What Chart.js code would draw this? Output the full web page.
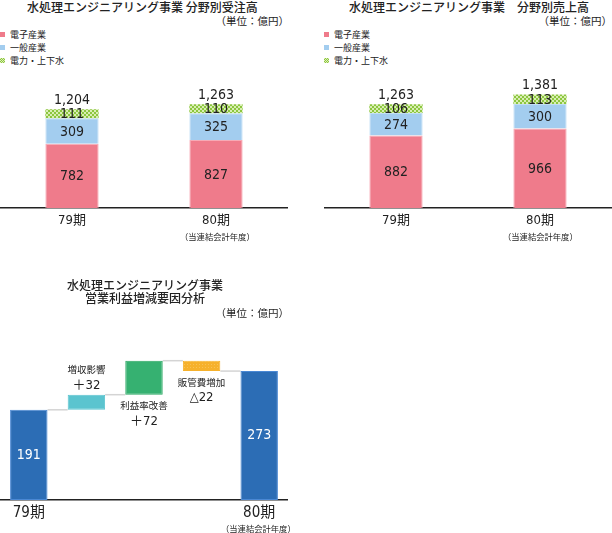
<!DOCTYPE html>
<html>
<head>
<meta charset="utf-8">
<script src="https://cdn.jsdelivr.net/npm/chart.js@4"></script>
<style>
  body { margin: 0; background: #fff; }
  #page { position: relative; width: 612px; height: 533px; font-family: "Noto Sans CJK JP", sans-serif; color: #222; }
  .t { position: absolute; white-space: nowrap; line-height: 1; }
  .title { font-size: 12px; font-weight: 500; }
  .unit { font-size: 10.5px; }
  .note { font-size: 8.3px; }
  .leg { font-size: 9px; }
  .sw { position: absolute; width: 5px; height: 5px; }
  .box { position: absolute; }
</style>
</head>
<body>
<div id="page">
  <div class="t title" style="left:27px;top:1px">水処理エンジニアリング事業 分野別受注高</div>
  <div class="t unit" style="right:323px;top:16px">（単位：億円）</div>
  <div class="sw" style="left:0;top:32px;background:#ef7b8b"></div>
  <div class="t leg" style="left:10px;top:30px">電子産業</div>
  <div class="sw" style="left:0;top:45px;background:#a3cdef"></div>
  <div class="t leg" style="left:10px;top:43px">一般産業</div>
  <div class="sw" style="left:0;top:58px;background:repeating-conic-gradient(#8cc63f 0 25%, #dcefb8 0 50%) 0 0/2px 2px"></div>
  <div class="t leg" style="left:10px;top:56px">電力・上下水</div>
  <div class="box" style="left:0;top:60px;width:288px;height:175px"><canvas id="c1"></canvas></div>
  <div class="t note" style="left:180px;top:232px">（当連結会計年度）</div>

  <div class="t title" style="left:349px;top:1px">水処理エンジニアリング事業　分野別売上高</div>
  <div class="t unit" style="right:0;top:16px">（単位：億円）</div>
  <div class="sw" style="left:324px;top:32px;background:#ef7b8b"></div>
  <div class="t leg" style="left:334px;top:30px">電子産業</div>
  <div class="sw" style="left:324px;top:45px;background:#a3cdef"></div>
  <div class="t leg" style="left:334px;top:43px">一般産業</div>
  <div class="sw" style="left:324px;top:58px;background:repeating-conic-gradient(#8cc63f 0 25%, #dcefb8 0 50%) 0 0/2px 2px"></div>
  <div class="t leg" style="left:334px;top:56px">電力・上下水</div>
  <div class="box" style="left:324px;top:60px;width:288px;height:175px"><canvas id="c2"></canvas></div>
  <div class="t note" style="left:503px;top:232px">（当連結会計年度）</div>

  <div class="t title" style="left:67px;top:279px">水処理エンジニアリング事業</div>
  <div class="t title" style="left:85px;top:292px">営業利益増減要因分析</div>
  <div class="t unit" style="right:323px;top:308px">（単位：億円）</div>
  <div class="box" style="left:0;top:330px;width:288px;height:200px"><canvas id="c3"></canvas></div>
  <div class="t note" style="left:221px;top:524px">（当連結会計年度）</div>
</div>
<script>
// data
const periods = ['79期', '80期'];
const segments = ['電子産業', '一般産業', '電力・上下水'];
const ordersElectronics = [782, 827];
const ordersGeneral = [309, 325];
const ordersPower = [111, 110];
const ordersTotal = [1204, 1263];
const salesElectronics = [882, 966];
const salesGeneral = [274, 300];
const salesPower = [106, 113];
const salesTotal = [1263, 1381];
const bridgeLabels = ['79期', '増収影響', '利益率改善', '販管費増加', '80期'];
const bridgeValues = [191, 32, 72, -22, 273];

const FONT = '"Noto Sans CJK JP", sans-serif';
const NUM = '"Liberation Sans Narrow", "DejaVu Sans Condensed", "Noto Sans CJK JP", sans-serif';

function makePattern(bg, fg, size) {
  const c = document.createElement('canvas');
  c.width = size * 2; c.height = size * 2;
  const g = c.getContext('2d');
  g.fillStyle = bg; g.fillRect(0, 0, c.width, c.height);
  g.fillStyle = fg;
  g.fillRect(0, 0, size, size);
  g.fillRect(size, size, size, size);
  return g.createPattern(c, 'repeat');
}
const greenPattern = makePattern('#8cc63f', '#d9eeb3', 2);
const orangePattern = (() => {
  const c = document.createElement('canvas');
  c.width = 3; c.height = 3;
  const g = c.getContext('2d');
  g.fillStyle = '#f6b12c'; g.fillRect(0, 0, 3, 3);
  g.fillStyle = '#f8c155'; g.fillRect(1, 1, 1, 1);
  return g.createPattern(c, 'repeat');
})();

// value labels in segments + total above
const stackLabels = {
  id: 'stackLabels',
  afterDatasetsDraw(chart, args, opts) {
    const ctx = chart.ctx;
    ctx.save();
    ctx.textAlign = 'center';
    ctx.textBaseline = 'middle';
    ctx.fillStyle = '#222';
    ctx.font = '14px ' + NUM;
    chart.data.datasets.forEach((ds, di) => {
      chart.getDatasetMeta(di).data.forEach((bar, i) => {
        ctx.fillText(ds.data[i].toLocaleString(), bar.x, (bar.y + bar.base) / 2 + 1);
      });
    });
    const top = chart.getDatasetMeta(chart.data.datasets.length - 1).data;
    top.forEach((bar, i) => {
      ctx.fillText(opts.totals[i].toLocaleString(), bar.x, bar.y - 9);
    });
    ctx.restore();
  }
};

function stackedChart(id, a, b, c, totals) {
  new Chart(document.getElementById(id), {
    type: 'bar',
    data: {
      labels: periods,
      datasets: [
        { label: segments[0], data: a, backgroundColor: '#ef7b8b', borderColor: '#f7aab5', borderWidth: 1 },
        { label: segments[1], data: b, backgroundColor: '#a3cdef', borderColor: '#c2def5', borderWidth: 1 },
        { label: segments[2], data: c, backgroundColor: greenPattern, borderWidth: 0 }
      ]
    },
    options: {
      responsive: true,
      maintainAspectRatio: false,
      animation: false,
      layout: { padding: 0 },
      barPercentage: 0.74,
      categoryPercentage: 0.5,
      plugins: { legend: { display: false }, tooltip: { enabled: false }, stackLabels: { totals } },
      scales: {
        x: {
          stacked: true,
          grid: { display: false, drawTicks: false },
          border: { display: true, color: '#222', width: 1.5 },
          ticks: { color: '#222', font: { family: NUM, size: 13 }, padding: 5 },
          afterFit(scale) { scale.height = 27; }
        },
        y: { stacked: true, display: false, min: 0, max: 1800 }
      }
    },
    plugins: [stackLabels]
  });
}
stackedChart('c1', ordersElectronics, ordersGeneral, ordersPower, ordersTotal);
stackedChart('c2', salesElectronics, salesGeneral, salesPower, salesTotal);

// waterfall
const last = bridgeValues.length - 1;
let running = 0;
const bridgeRanges = bridgeValues.map((v, i) => {
  if (i === 0 || i === last) { running = v; return [0, v]; }
  const r = [running, running + v];
  running += v;
  return r;
});
const bridgeColors = ['#2c6db5', '#5bc4cf', '#36b171', orangePattern, '#2c6db5'];
const bridgeBorders = ['#4a88d4', '#5bc4cf', '#2aa862', '#f6b12c', '#4a88d4'];
const labelAbove = [false, true, false, false, false];

const bridgeLabelsPlugin = {
  id: 'bridgeLabels',
  beforeDatasetsDraw(chart) {
    const ctx = chart.ctx, y = chart.scales.y;
    const bars = chart.getDatasetMeta(0).data;
    ctx.save();
    ctx.strokeStyle = '#d4d4d4';
    ctx.lineWidth = 1.5;
    for (let i = 0; i < bars.length - 1; i++) {
      const lvl = y.getPixelForValue(bridgeRanges[i][1]);
      ctx.beginPath();
      ctx.moveTo(bars[i].x + bars[i].width / 2, lvl);
      ctx.lineTo(bars[i + 1].x - bars[i + 1].width / 2, lvl);
      ctx.stroke();
    }
    ctx.restore();
  },
  afterDatasetsDraw(chart) {
    const ctx = chart.ctx, y = chart.scales.y;
    const bars = chart.getDatasetMeta(0).data;
    ctx.save();
    ctx.textAlign = 'center';
    ctx.textBaseline = 'middle';
    bars.forEach((bar, i) => {
      const v = bridgeValues[i];
      if (i === 0 || i === last) {
        ctx.fillStyle = '#fff';
        ctx.font = '14px ' + NUM;
        ctx.fillText(String(v), bar.x, (bar.y + bar.base) / 2);
        return;
      }
      const hi = y.getPixelForValue(Math.max(...bridgeRanges[i]));
      const lo = y.getPixelForValue(Math.min(...bridgeRanges[i]));
      const txt = v > 0 ? '＋' + v : '△' + Math.abs(v);
      ctx.fillStyle = '#222';
      const y1 = labelAbove[i] ? hi - 25 : lo + 11;
      ctx.font = '9.5px ' + FONT;
      ctx.fillText(bridgeLabels[i], bar.x, y1);
      ctx.font = '13px ' + NUM;
      ctx.fillText(txt, bar.x, y1 + 16);
    });
    ctx.restore();
  }
};

new Chart(document.getElementById('c3'), {
  type: 'bar',
  data: {
    labels: bridgeLabels,
    datasets: [{
      data: bridgeRanges,
      backgroundColor: bridgeColors,
      borderColor: bridgeBorders,
      borderWidth: 1,
      borderSkipped: false
    }]
  },
  options: {
    responsive: true,
    maintainAspectRatio: false,
    animation: false,
    layout: { padding: 0 },
    barPercentage: 0.65,
    categoryPercentage: 1,
    plugins: { legend: { display: false }, tooltip: { enabled: false } },
    scales: {
      x: {
        grid: { display: false, drawTicks: false },
        border: { display: true, color: '#222', width: 1.5 },
        ticks: {
          color: '#222', font: { family: NUM, size: 15 }, padding: 4,
          callback(v, i) { return (i === 0 || i === last) ? bridgeLabels[i] : ''; }
        },
        afterFit(scale) { scale.height = 30; }
      },
      y: { display: false, min: 0, max: 360 }
    }
  },
  plugins: [bridgeLabelsPlugin]
});
</script>
</body>
</html>
